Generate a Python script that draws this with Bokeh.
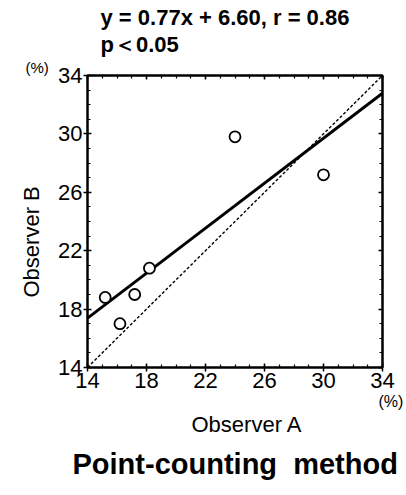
from bokeh.plotting import figure
from bokeh.models import Range1d, LinearAxis, FixedTicker, Title
from bokeh.embed import file_html
from bokeh.resources import INLINE

# Data
observer_a = [15.2, 16.2, 17.2, 18.2, 24.0, 30.0]
observer_b = [18.8, 17.0, 19.0, 20.8, 29.8, 27.2]
slope = 0.77
intercept = 6.60
axis_min, axis_max = 14, 34
major_ticks = [14, 18, 22, 26, 30, 34]
minor_ticks = list(range(14, 35))

FONT = "Liberation Sans"

p = figure(width=406, height=495, output_backend="svg", toolbar_location=None,
           x_range=Range1d(axis_min, axis_max), y_range=Range1d(axis_min, axis_max),
           min_border_left=87, min_border_right=24, min_border_top=75,
           min_border_bottom=128, x_axis_location=None, y_axis_location=None)
p.grid.visible = False
p.outline_line_color = "black"
p.outline_line_width = 2
p.background_fill_color = "white"
p.border_fill_color = "white"


def make_axis(show_labels):
    ax = LinearAxis(ticker=FixedTicker(ticks=major_ticks, minor_ticks=minor_ticks))
    ax.axis_line_width = 2
    ax.major_tick_in = 4
    ax.major_tick_out = 4
    ax.minor_tick_in = 3
    ax.minor_tick_out = 0
    ax.major_tick_line_width = 1.5
    ax.minor_tick_line_width = 1.2
    ax.major_label_text_font = FONT
    ax.major_label_text_font_size = "22px"
    ax.major_label_text_color = "black"
    ax.major_label_standoff = 1
    if not show_labels:
        ax.major_label_overrides = {t: "" for t in major_ticks}
        ax.major_label_text_font_size = "1px"
        ax.major_label_standoff = 0
        ax.major_tick_out = 0
    return ax


def make_title(txt, size, bold=False, offset=0, standoff=0):
    return Title(text=txt, text_font=FONT, text_font_size=size,
                 text_font_style="bold" if bold else "normal",
                 align="left", offset=offset, standoff=standoff, text_color="black")


p.add_layout(make_axis(True), "below")
p.add_layout(make_axis(True), "left")
p.add_layout(make_axis(False), "above")
p.add_layout(make_axis(False), "right")

# texts around the frame
p.add_layout(make_title("(%)", "15px", offset=-62), "above")
p.add_layout(make_title("p\uff1c0.05", "22px", bold=True, offset=13), "above")
p.add_layout(make_title(f"y = {slope:.2f}x + {intercept:.2f}, r = 0.86", "22px",
                        bold=True, offset=13), "above")

p.add_layout(make_title("(%)", "16px", offset=291), "below")
p.add_layout(make_title("Observer A", "22px", offset=104), "below")
p.add_layout(make_title("Point-counting\u00a0 method", "29px", bold=True,
                        offset=-15, standoff=18), "below")

p.add_layout(make_title("Observer B", "22px", offset=70, standoff=24), "left")

# identity line (dashed)
p.line([axis_min, axis_max], [axis_min, axis_max], line_color="black",
       line_width=1.4, line_dash="3 2")
# regression line
reg_x = [axis_min, axis_max]
reg_y = [slope * v + intercept for v in reg_x]
p.line(reg_x, reg_y, line_color="black", line_width=3)
# points
p.scatter(observer_a, observer_b, size=11, marker="circle", fill_color="white",
          line_color="black", line_width=1.8)

open("out.html", "w").write(file_html(p, INLINE))
